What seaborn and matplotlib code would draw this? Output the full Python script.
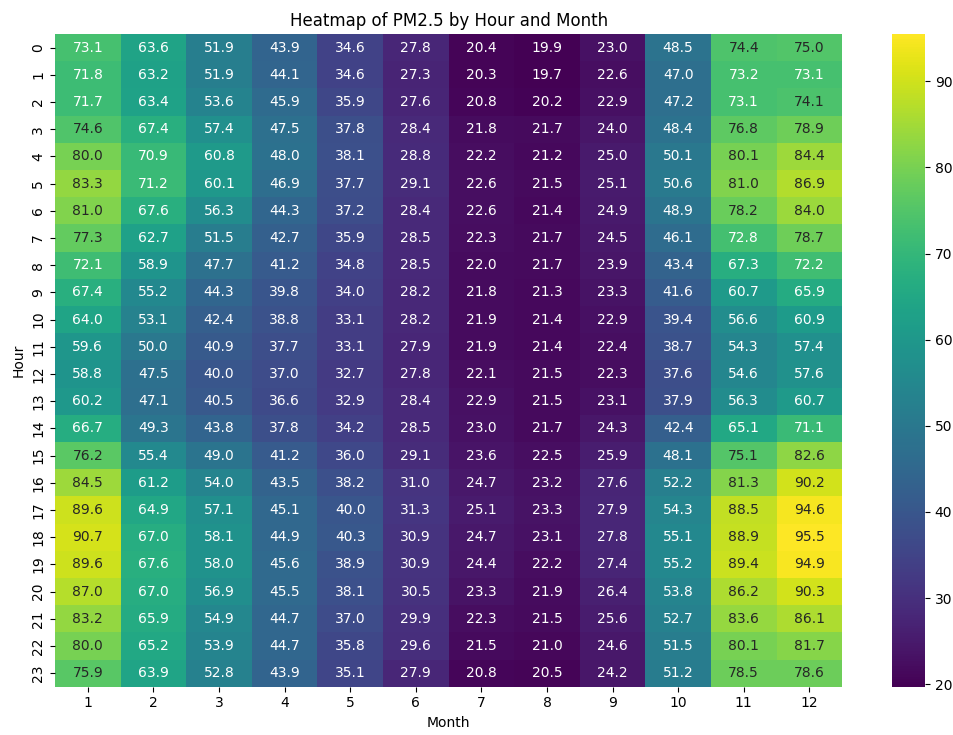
import matplotlib
matplotlib.use("Agg")
import matplotlib.pyplot as plt
import seaborn as sns
import pandas as pd

hours = list(range(24))
months = list(range(1, 13))

# mean PM2.5 for each hour 0..23, one list per month
m1 = [73.1, 71.8, 71.7, 74.6, 80.0, 83.3, 81.0, 77.3, 72.1, 67.4, 64.0, 59.6,
      58.8, 60.2, 66.7, 76.2, 84.5, 89.6, 90.7, 89.6, 87.0, 83.2, 80.0, 75.9]
m2 = [63.6, 63.2, 63.4, 67.4, 70.9, 71.2, 67.6, 62.7, 58.9, 55.2, 53.1, 50.0,
      47.5, 47.1, 49.3, 55.4, 61.2, 64.9, 67.0, 67.6, 67.0, 65.9, 65.2, 63.9]
m3 = [51.9, 51.9, 53.6, 57.4, 60.8, 60.1, 56.3, 51.5, 47.7, 44.3, 42.4, 40.9,
      40.0, 40.5, 43.8, 49.0, 54.0, 57.1, 58.1, 58.0, 56.9, 54.9, 53.9, 52.8]
m4 = [43.9, 44.1, 45.9, 47.5, 48.0, 46.9, 44.3, 42.7, 41.2, 39.8, 38.8, 37.7,
      37.0, 36.6, 37.8, 41.2, 43.5, 45.1, 44.9, 45.6, 45.5, 44.7, 44.7, 43.9]
m5 = [34.6, 34.6, 35.9, 37.8, 38.1, 37.7, 37.2, 35.9, 34.8, 34.0, 33.1, 33.1,
      32.7, 32.9, 34.2, 36.0, 38.2, 40.0, 40.3, 38.9, 38.1, 37.0, 35.8, 35.1]
m6 = [27.8, 27.3, 27.6, 28.4, 28.8, 29.1, 28.4, 28.5, 28.5, 28.2, 28.2, 27.9,
      27.8, 28.4, 28.5, 29.1, 31.0, 31.3, 30.9, 30.9, 30.5, 29.9, 29.6, 27.9]
m7 = [20.4, 20.3, 20.8, 21.8, 22.2, 22.6, 22.6, 22.3, 22.0, 21.8, 21.9, 21.9,
      22.1, 22.9, 23.0, 23.6, 24.7, 25.1, 24.7, 24.4, 23.3, 22.3, 21.5, 20.8]
m8 = [19.9, 19.7, 20.2, 21.7, 21.2, 21.5, 21.4, 21.7, 21.7, 21.3, 21.4, 21.4,
      21.5, 21.5, 21.7, 22.5, 23.2, 23.3, 23.1, 22.2, 21.9, 21.5, 21.0, 20.5]
m9 = [23.0, 22.6, 22.9, 24.0, 25.0, 25.1, 24.9, 24.5, 23.9, 23.3, 22.9, 22.4,
      22.3, 23.1, 24.3, 25.9, 27.6, 27.9, 27.8, 27.4, 26.4, 25.6, 24.6, 24.2]
m10 = [48.5, 47.0, 47.2, 48.4, 50.1, 50.6, 48.9, 46.1, 43.4, 41.6, 39.4, 38.7,
       37.6, 37.9, 42.4, 48.1, 52.2, 54.3, 55.1, 55.2, 53.8, 52.7, 51.5, 51.2]
m11 = [74.4, 73.2, 73.1, 76.8, 80.1, 81.0, 78.2, 72.8, 67.3, 60.7, 56.6, 54.3,
       54.6, 56.3, 65.1, 75.1, 81.3, 88.5, 88.9, 89.4, 86.2, 83.6, 80.1, 78.5]
m12 = [75.0, 73.1, 74.1, 78.9, 84.4, 86.9, 84.0, 78.7, 72.2, 65.9, 60.9, 57.4,
       57.6, 60.7, 71.1, 82.6, 90.2, 94.6, 95.5, 94.9, 90.3, 86.1, 81.7, 78.6]

pivot = pd.DataFrame(
    dict(zip(months, [m1, m2, m3, m4, m5, m6, m7, m8, m9, m10, m11, m12])),
    index=hours,
)
pivot.index.name = "Hour"
pivot.columns.name = "Month"

fig = plt.figure(figsize=(9.54, 7.35), dpi=100)
ax = fig.add_axes([0.0577, 0.0657, 0.825, 0.888])
cax = fig.add_axes([0.935, 0.0657, 0.0346, 0.888])
sns.heatmap(pivot, cmap="viridis", annot=True, fmt=".1f", ax=ax, cbar_ax=cax)
ax.set_title("Heatmap of PM2.5 by Hour and Month")
ax.set_xlabel("Month")
ax.set_ylabel("Hour")
fig.savefig("out.png", dpi=100)
